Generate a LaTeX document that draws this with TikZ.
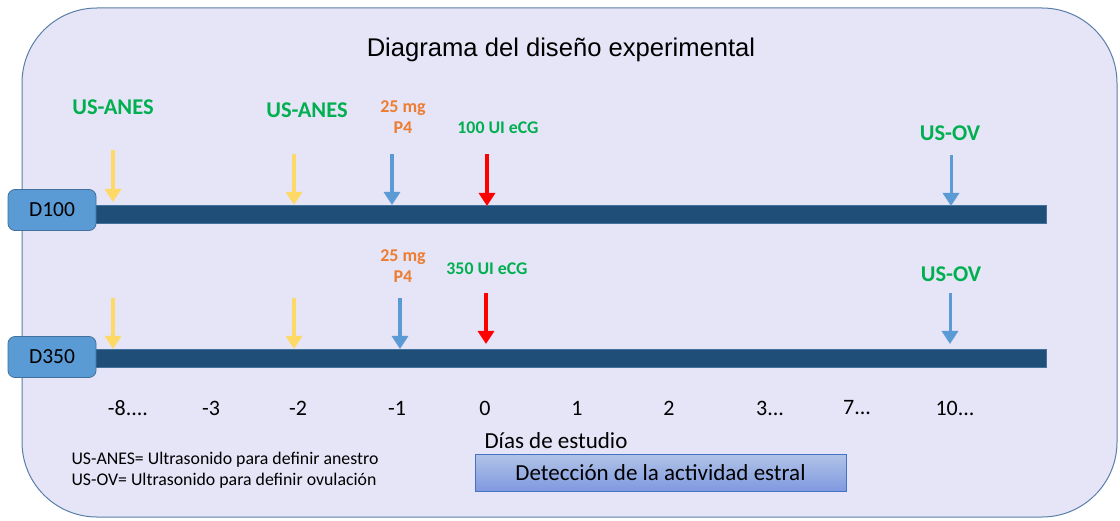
\documentclass[tikz,border=0pt]{standalone}
\usepackage{fontspec}
\setmainfont{Carlito}
\newfontfamily\titlefont{Liberation Sans}
\usetikzlibrary{arrows.meta}
\definecolor{bgfill}{HTML}{E6E4F7}
\definecolor{bgline}{HTML}{5A7FA8}
\definecolor{bardark}{HTML}{1F4E79}
\definecolor{boxblue}{HTML}{5B9BD5}
\definecolor{boxline}{HTML}{41719C}
\definecolor{arrowyellow}{HTML}{FFD966}
\definecolor{arrowblue}{HTML}{5B9BD5}
\definecolor{arrowred}{HTML}{FF0000}
\definecolor{labgreen}{HTML}{00B050}
\definecolor{laborange}{HTML}{ED7D31}
\definecolor{detfill}{HTML}{8FAADC}
\definecolor{detline}{HTML}{4472C4}
\tikzset{
  fs/.style={font=\fontsize{#1}{#1}\selectfont},
  bar/.style={fill=bardark, draw=boxline, line width=0.6pt, minimum height=18pt, inner sep=0pt},
  groupbox/.style={draw=boxline, fill=boxblue, rounded corners=7pt, minimum width=88pt, minimum height=41pt, line width=0.8pt, fs=21.5},
  timearrow/.style={line width=4pt, -{Triangle[width=16pt,length=13pt]}, draw=#1},
  glabel/.style={text=labgreen, font=\fontsize{22.5}{22.5}\selectfont\bfseries},
  slabel/.style={text=labgreen, font=\fontsize{17.8}{17.8}\selectfont\bfseries},
  olabel/.style={text=laborange, font=\fontsize{18}{21}\selectfont\bfseries, align=center},
  tick/.style={fs=22, anchor=center},
  legend/.style={fs=17.8, anchor=west},
}
\begin{document}
\begin{tikzpicture}[x=1pt,y=-1pt]
\useasboundingbox (0,0) rectangle (1120,521);
\path[fill=white] (0,0) rectangle (1120,521);
\draw[fill=bgfill, draw=bgline, line width=1pt, rounded corners=75pt] (22,8) rectangle (1117,517);
\node[font=\titlefont\fontsize{25.6}{25.6}\selectfont] (title) at (561,50) {Diagrama del diseño experimental};

% bars
\node[bar, minimum width=951pt] (bar1) at (570.5,214) {};
\node[bar, minimum width=951pt] (bar2) at (570.5,358) {};
\node[groupbox] (d100) at (52,210) {D100};
\node[groupbox] (d350) at (52,357) {D350};

% top row arrows
\coordinate (a1s) at (113,150); \coordinate (a1e) at (113,202);
\coordinate (a2s) at (294,154); \coordinate (a2e) at (294,205);
\coordinate (a3s) at (392,154); \coordinate (a3e) at (392,205);
\coordinate (a4s) at (487,154); \coordinate (a4e) at (487,206);
\coordinate (a5s) at (951,155); \coordinate (a5e) at (951,206);
\draw[timearrow=arrowyellow] (a1s) -- (a1e);
\draw[timearrow=arrowyellow] (a2s) -- (a2e);
\draw[timearrow=arrowblue] (a3s) -- (a3e);
\draw[timearrow=arrowred] (a4s) -- (a4e);
\draw[timearrow=arrowblue, line width=3pt] (a5s) -- (a5e);

% bottom row arrows
\coordinate (b1s) at (113,298); \coordinate (b1e) at (113,349);
\coordinate (b2s) at (294,298); \coordinate (b2e) at (294,349);
\coordinate (b3s) at (400,298); \coordinate (b3e) at (400,349);
\coordinate (b4s) at (486,293); \coordinate (b4e) at (486,344);
\coordinate (b5s) at (950,293); \coordinate (b5e) at (950,344);
\draw[timearrow=arrowyellow] (b1s) -- (b1e);
\draw[timearrow=arrowyellow] (b2s) -- (b2e);
\draw[timearrow=arrowblue] (b3s) -- (b3e);
\draw[timearrow=arrowred] (b4s) -- (b4e);
\draw[timearrow=arrowblue, line width=3pt] (b5s) -- (b5e);

% labels
\node[glabel] (l1) at (113,107) {US-ANES};
\node[glabel] (l2) at (307,110) {US-ANES};
\node[olabel] (l3) at (403,117) {25 mg\\P4};
\node[slabel] (l4) at (498,128) {100 UI eCG};
\node[glabel] (l5) at (950,133) {US-OV};
\node[olabel] (m3) at (403,266) {25 mg\\P4};
\node[slabel] (m4) at (487,269) {350 UI eCG};
\node[glabel] (m5) at (951,274) {US-OV};

% axis
\node[tick] (t1) at (128,408) {-8....};
\node[tick] (t2) at (211,408) {-3};
\node[tick] (t3) at (298,408) {-2};
\node[tick] (t4) at (397,408) {-1};
\node[tick] (t5) at (485,408) {0};
\node[tick] (t6) at (577,408) {1};
\node[tick] (t7) at (669,408) {2};
\node[tick] (t8) at (770,408) {3...};
\node[tick] (t9) at (857,408) {7...};
\node[tick] (t10) at (955,408) {10...};

\node[fs=23] (dias) at (556,441) {Días de estudio};
\node[draw=detline, line width=0.8pt, top color=detfill!70!white, bottom color=detfill!90!blue, minimum width=371pt, minimum height=37pt, fs=23] (det) at (660.5,472.5) {Detección de la actividad estral};

\node[legend] (leg1) at (68,460) {US-ANES= Ultrasonido para definir anestro};
\node[legend] (leg2) at (68,481) {US-OV= Ultrasonido para definir ovulación};
\end{tikzpicture}
\end{document}
